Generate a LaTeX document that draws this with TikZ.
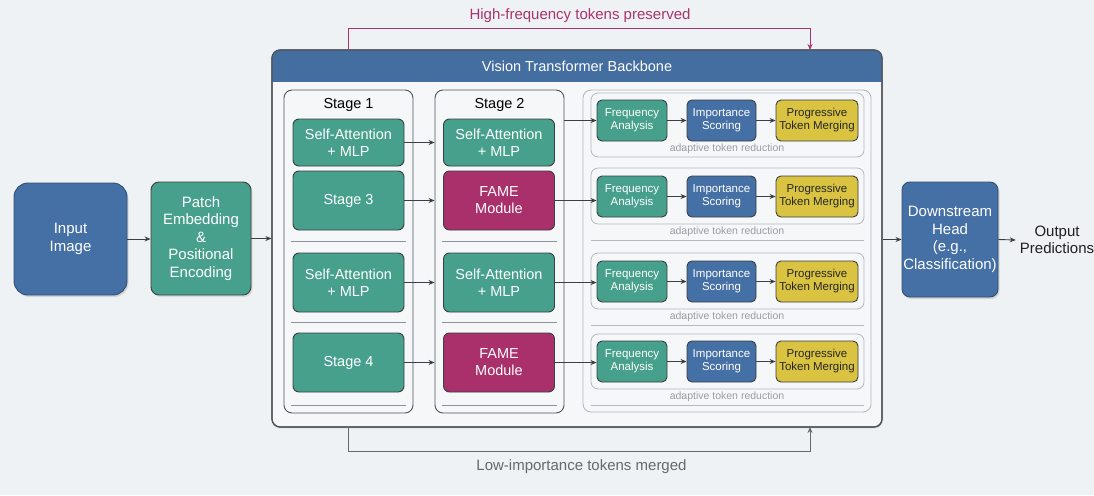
\documentclass[tikz,border=0pt]{standalone}
\usepackage{fontspec}
\setmainfont{Liberation Sans}
\usetikzlibrary{arrows.meta,shadows}

\definecolor{pagebg}{HTML}{EFF2F4}
\definecolor{panelbg}{HTML}{F5F7F8}
\definecolor{vitblue}{HTML}{4570A5}
\definecolor{hdrblue}{HTML}{436E9F}
\definecolor{tealc}{HTML}{47A08C}
\definecolor{famec}{HTML}{A9306B}
\definecolor{yellowc}{HTML}{D9C341}
\definecolor{edgec}{HTML}{3A3F44}
\definecolor{framec}{HTML}{50555A}
\definecolor{softc}{HTML}{B4B9BE}
\definecolor{sepc}{HTML}{8E9398}
\definecolor{hfc}{HTML}{A8336E}
\definecolor{lowc}{HTML}{66696C}
\definecolor{notec}{HTML}{9A9EA2}

\tikzset{
  blk/.style={draw=edgec, line width=0.9pt, rounded corners=6pt, text=white,
    align=center, inner sep=0pt, font=\fontsize{15}{17.5}\selectfont},
  bigblue/.style={blk, fill=vitblue, draw=vitblue!70!black, rounded corners=14pt,
    drop shadow={shadow xshift=1.5pt, shadow yshift=-2pt, opacity=0.25}},
  bigteal/.style={blk, fill=tealc, rounded corners=8pt,
    drop shadow={shadow xshift=1.5pt, shadow yshift=-2pt, opacity=0.2}},
  stagebox/.style={blk, fill=tealc, minimum width=111pt, minimum height=59pt,
    font=\fontsize{14.5}{17}\selectfont},
  famebox/.style={stagebox, fill=famec},
  smallbox/.style={blk, rounded corners=5pt, minimum height=41pt,
    font=\fontsize{11.5}{13}\selectfont},
  freqbox/.style={smallbox, fill=tealc, minimum width=70pt},
  impbox/.style={smallbox, fill=vitblue, minimum width=69pt},
  mergebox/.style={smallbox, fill=yellowc, text=black!85, minimum width=82pt},
  column/.style={draw=framec, line width=0.9pt, rounded corners=8pt, fill=panelbg,
    minimum width=129pt, minimum height=323pt, inner sep=0pt},
  subpanel/.style={draw=softc, line width=0.8pt, rounded corners=7pt, fill=panelbg,
    minimum width=273pt, inner sep=0pt},
  note/.style={text=notec, font=\fontsize{10.5}{12}\selectfont, inner sep=0pt},
  sep/.style={draw=sepc, line width=0.8pt},
  arr/.style={draw=edgec, line width=0.9pt, -{Stealth[length=6pt,width=5pt]}},
  label/.style={inner sep=0pt, font=\fontsize{15}{17.5}\selectfont},
}

\begin{document}
\begin{tikzpicture}[x=1pt, y=-1pt]
  % canvas
  \fill[pagebg] (0,0) rectangle (1094,495);
  \useasboundingbox (0,0) rectangle (1094,495);

  % input and embedding
  \node[bigblue, minimum width=113pt, minimum height=112pt] (in) at (70.5,239) {Input\\Image};
  \node[bigteal, minimum width=100pt, minimum height=113pt] (pe) at (201,238.5)
    {Patch\\Embedding\\\&\\Positional\\Encoding};

  % backbone frame with header band
  \node[draw=framec, line width=1.2pt, rounded corners=8pt, fill=panelbg,
        minimum width=610pt, minimum height=377pt, inner sep=0pt,
        drop shadow={shadow xshift=1pt, shadow yshift=-1.5pt, opacity=0.15}] (bb) at (577,238.5) {};
  \begin{scope}
    \clip[rounded corners=8pt] (272,50) rectangle (882,427);
    \fill[hdrblue] (272,50) rectangle (882,82);
  \end{scope}
  \draw[framec, line width=1.2pt, rounded corners=8pt] (272,50) rectangle (882,427);
  \node[text=white, inner sep=0pt, font=\fontsize{14.5}{17}\selectfont] (bbtitle) at (577,66.5)
    {Vision Transformer Backbone};

  % stage columns
  \node[column] (c1) at (348.5,251.5) {};
  \node[column] (c2) at (499.5,251.5) {};
  \node[label, font=\fontsize{14.5}{17}\selectfont] (c1t) at (348.5,104.5) {Stage 1};
  \node[label, font=\fontsize{14.5}{17}\selectfont] (c2t) at (499.5,104.5) {Stage 2};

  \node[stagebox, minimum height=47pt] (s1a) at (348.5,142.5) {Self-Attention\\+ MLP};
  \node[stagebox] (s1b) at (348.5,200.5) {Stage 3};
  \node[stagebox] (s1c) at (348.5,282.5) {Self-Attention\\+ MLP};
  \node[stagebox] (s1d) at (348.5,362.5) {Stage 4};

  \node[stagebox, minimum height=47pt] (s2a) at (499,142.5) {Self-Attention\\+ MLP};
  \node[famebox] (s2b) at (499,200.5) {FAME\\Module};
  \node[stagebox] (s2c) at (499,282.5) {Self-Attention\\+ MLP};
  \node[famebox] (s2d) at (499,362.5) {FAME\\Module};

  \foreach \yy in {241,322,405} {
    \draw[sep] (291,\yy) -- (406,\yy);
    \draw[sep] (442,\yy) -- (557,\yy);
  }

  % adaptive token reduction area
  \node[draw=softc, line width=0.9pt, rounded corners=8pt, fill=panelbg,
        minimum width=288pt, minimum height=322pt, inner sep=0pt] (ra) at (727,251) {};

  \node[subpanel, minimum height=64pt] (p1) at (727.5,125) {};
  \node[subpanel, minimum height=56pt] (p2) at (727.5,196) {};
  \node[subpanel, minimum height=56pt] (p3) at (727.5,281) {};
  \node[subpanel, minimum height=55pt] (p4) at (727.5,361.5) {};
  \draw[softc, line width=0.8pt] (591,240) -- (864,240);
  \draw[softc, line width=0.8pt] (591,325) -- (864,325);
  \draw[softc, line width=0.8pt] (591,405) -- (864,405);

  \foreach \r/\yy/\ly in {1/120.5/149, 2/196.5/232, 3/281.5/317, 4/361.5/397} {
    \node[freqbox] (fa\r) at (632,\yy) {Frequency\\Analysis};
    \node[impbox] (is\r) at (721.5,\yy) {Importance\\Scoring};
    \node[mergebox] (tm\r) at (817,\yy) {Progressive\\Token Merging};
    \node[note] (nt\r) at (727,\ly) {adaptive token reduction};
    \draw[arr] (fa\r.east) -- (is\r.west);
    \draw[arr] (is\r.east) -- (tm\r.west);
  }

  % flow between stages
  \draw[arr] (s1a.east) -- (s1a.east -| c2.west);
  \draw[arr] (s1b.east) -- (s1b.east -| c2.west);
  \draw[arr] (s1c.east) -- (s1c.east -| c2.west);
  \draw[arr] (s1d.east) -- (s1d.east -| c2.west);

  \draw[arr] (c2.east |- fa1.west) -- (fa1.west);
  \draw[arr] (s2b.east) -- (s2b.east -| fa2.west);
  \draw[arr] (s2c.east) -- (s2c.east -| fa3.west);
  \draw[arr] (s2d.east) -- (s2d.east -| fa4.west);

  % head
  \node[bigblue, rounded corners=8pt, minimum width=96pt, minimum height=115pt] (ds) at (950,239.5)
    {Downstream\\Head\\(e.g.,\\Classification)};
  \node[label, text=black!88, align=center] (out) at (1057,240) {Output\\Predictions};

  \draw[arr] (in.east) -- (in.east -| pe.west);
  \draw[arr] (pe.east) -- (pe.east -| bb.west);
  \draw[arr] (bb.east |- ds.west) -- (ds.west);
  \draw[arr] (ds.east) -- ([xshift=-4pt]out.west);

  % bypass routes
  \coordinate (hfa) at (348,50);
  \coordinate (hfb) at (810,50);
  \coordinate (lia) at (348,427);
  \coordinate (lib) at (810,427);
  \draw[hfc, line width=0.9pt, -{Stealth[length=6pt,width=5pt]}] (hfa) -- (348,28) -| (hfb);
  \node[label, text=hfc] (hfl) at (580,15.5) {High-frequency tokens preserved};
  \draw[lowc, line width=0.9pt, -{Stealth[length=6pt,width=5pt]}] (lia) -- (348,451) -| (lib);
  \node[label, text=lowc] (lil) at (581.5,467) {Low-importance tokens merged};
\end{tikzpicture}
\end{document}
